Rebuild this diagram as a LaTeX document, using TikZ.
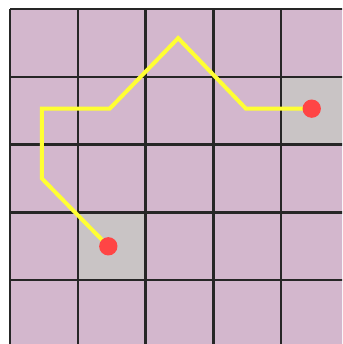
\documentclass[tikz,border=0pt]{standalone}
\usetikzlibrary{positioning}
\definecolor{cellpink}{HTML}{D3B7CD}
\definecolor{cellgray}{HTML}{C9C4C5}
\definecolor{routeyellow}{HTML}{FFFF33}
\definecolor{dotred}{HTML}{FF4545}
\begin{document}
\begin{tikzpicture}[
      x=2.034cm, y=-2.034cm,
      gridline/.style={black!85, line width=0.075cm},
      route/.style={routeyellow, line width=0.12cm, line join=miter},
      dot/.style={circle, fill=dotred, inner sep=0pt, minimum size=0.55cm},
    ]
    \useasboundingbox (-0.1475,-0.1327) rectangle (4.897,4.941);
    \clip (-0.1475,-0.1327) rectangle (4.897,4.941);
    \fill[white] (-0.1475,-0.1327) rectangle (4.897,4.941);
    \fill[cellpink] (0,0) rectangle (5,5);
    \fill[cellgray] (4,1) rectangle (5,2);
    \fill[cellgray] (1,3) rectangle (2,4);
    \foreach \k in {0,...,5} {
      \draw[gridline] (\k,0) -- (\k,5);
      \draw[gridline] (0,\k) -- (5,\k);
    }
    \coordinate (start) at (1.45,3.5);
    \coordinate (goal) at (4.45,1.47);
    \coordinate (turnA) at (0.47,2.5);
    \coordinate (turnB) at (0.47,1.47);
    \coordinate (turnC) at (1.47,1.47);
    \coordinate (peak) at (2.48,0.43);
    \coordinate (turnD) at (3.48,1.47);
    \draw[route] (start) -- (turnA) -- (turnB) -- (turnC) -- (peak)
      -- (turnD) -- (goal);
    \node[dot] (startdot) at (start) {};
    \node[dot] (goaldot) at (goal) {};
  \end{tikzpicture}
\end{document}
